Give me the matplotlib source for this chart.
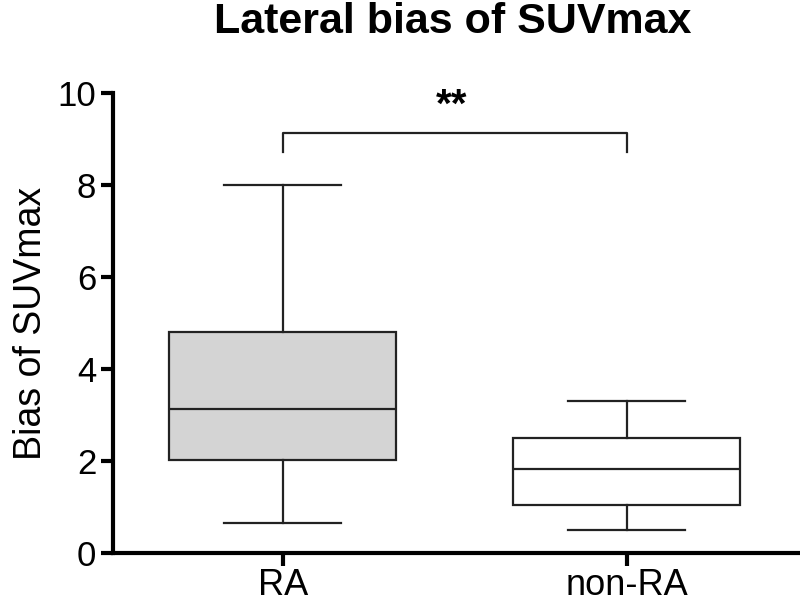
import matplotlib
matplotlib.use("Agg")
import matplotlib.pyplot as plt

plt.rcParams['font.family'] = ['Liberation Sans', 'DejaVu Sans']

categories = ["RA", "non-RA"]
whisker_low = [0.66, 0.50]
q1 = [2.02, 1.05]
median = [3.14, 1.83]
q3 = [4.81, 2.49]
whisker_high = [8.01, 3.30]
fills = ["#d4d4d4", "#ffffff"]
sig_label = "**"

fig = plt.figure(figsize=(8, 6.06), dpi=100)
ax = fig.add_axes([0.141, 0.0875, 0.856, 0.759])

stats = []
for i, c in enumerate(categories):
    stats.append(dict(label=c, whislo=whisker_low[i], q1=q1[i], med=median[i],
                      q3=q3[i], whishi=whisker_high[i], fliers=[]))

bp = ax.bxp(stats, positions=[0, 1], widths=0.66, patch_artist=True,
            showfliers=False,
            boxprops=dict(linewidth=1.6, edgecolor="#222222"),
            medianprops=dict(color="#222222", linewidth=1.6),
            whiskerprops=dict(color="#222222", linewidth=1.6),
            capprops=dict(color="#222222", linewidth=1.6),
            capwidths=0.34)
for patch, f in zip(bp['boxes'], fills):
    patch.set_facecolor(f)

ax.set_xlim(-0.494, 1.497)
ax.set_ylim(0, 10)
ax.set_yticks([0, 2, 4, 6, 8, 10])
ax.set_xticks([0, 1])
ax.set_xticklabels(categories)

for s in ["top", "right"]:
    ax.spines[s].set_visible(False)
for s in ["left", "bottom"]:
    ax.spines[s].set_linewidth(3)
    ax.spines[s].set_color("black")

ax.tick_params(axis='y', direction='out', length=9, width=3, labelsize=25, pad=3)
ax.tick_params(axis='x', direction='out', length=9, width=3, labelsize=26, pad=2)

ax.set_ylabel("Bias of SUVmax", fontsize=27, labelpad=6)
fig.suptitle("Lateral bias of SUVmax", fontsize=31, fontweight='bold',
             x=0.566, y=0.997)

# significance bracket
ax.plot([0, 0, 1, 1], [8.72, 9.13, 9.13, 8.72], color="#222222", linewidth=1.6,
        clip_on=False)
ax.text(0.49, 9.3, sig_label, ha='center', va='bottom', fontsize=29, fontweight='bold')

fig.savefig("out.png", dpi=100)
